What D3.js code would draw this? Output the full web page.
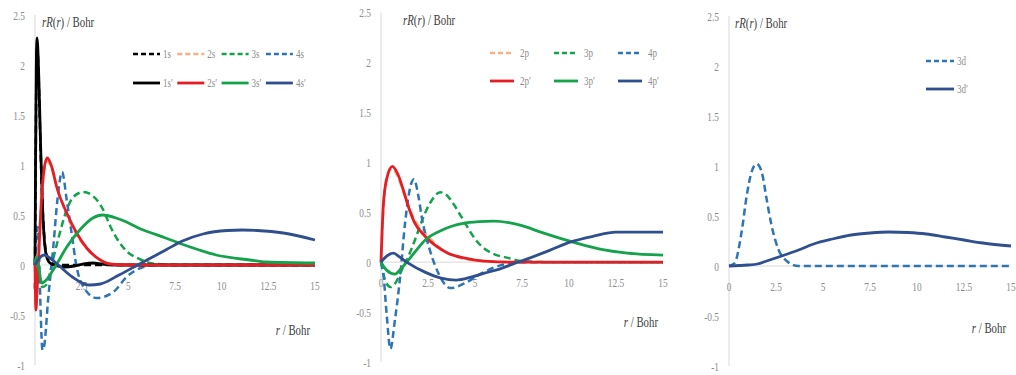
<!DOCTYPE html>
<html>
  <head>
    <meta charset="utf-8">
    <title>Radial functions rR(r)</title>
    <script src="https://cdn.jsdelivr.net/npm/d3@7"></script>
    <style>
      body { margin: 0; background: #fff; }
      svg { display: block; font-family: "Liberation Serif", "Times New Roman", serif; }
      .tick-label { fill: #8c8c8c; font-size: 13px; }
      .axis-title { fill: #404040; font-size: 15px; }
      .legend-label { fill: #8c8c8c; font-size: 12.5px; }
      .axis-line { stroke: #d9d9d9; stroke-width: 1; fill: none; }
      .plot { fill: none; stroke-linejoin: round; }
    </style>
  </head>
  <body>
    <svg id="chart" width="1016" height="375"></svg>
    <script>
      // tick labels
      var xTicks = [0, 2.5, 5, 7.5, 10, 12.5, 15];
      var yTicks = [-1, -0.5, 0, 0.5, 1, 1.5, 2, 2.5];

      // s orbitals: [r / Bohr, rR(r)]
      var s1 = [[0,0],[0.04,1.1],[0.08,2.0],[0.12,2.2],[0.2,1.85],[0.3,1.15],[0.4,0.6],[0.5,0.28],[0.6,0.12],[0.8,0.03],[1.2,0],[2,0],[4,0],[8,0],[15,0]];
      var s2 = [[0,0],[0.05,-0.42],[0.1,-0.28],[0.2,0.12],[0.3,0.5],[0.45,0.88],[0.65,1.04],[0.9,0.96],[1.2,0.76],[1.7,0.5],[2.2,0.31],[2.8,0.16],[3.5,0.05],[4.2,0.01],[6,0],[15,0]];
      var s3 = [[0,0],[0.15,-0.12],[0.4,-0.22],[0.6,-0.2],[0.8,-0.08],[1.0,0.08],[1.3,0.3],[1.7,0.55],[2.05,0.68],[2.6,0.73],[3.1,0.69],[3.66,0.55],[4.0,0.4],[4.4,0.26],[4.9,0.14],[5.6,0.06],[6.5,0.01],[8,0],[15,0]];
      var s4 = [[0,0],[0.08,0.3],[0.15,0.38],[0.22,0.1],[0.3,-0.45],[0.4,-0.85],[0.5,-0.8],[0.7,-0.35],[0.98,0.18],[1.2,0.65],[1.45,0.93],[1.7,0.65],[1.96,0.32],[2.23,-0.02],[2.6,-0.22],[3.3,-0.33],[4.2,-0.27],[4.9,-0.12],[5.8,-0.02],[6.5,0],[10,0],[15,0]];
      var s1p = [[0,0],[0.03,1.0],[0.07,2.0],[0.11,2.27],[0.2,1.9],[0.3,1.2],[0.4,0.6],[0.5,0.25],[0.6,0.1],[0.8,0.02],[1.2,-0.01],[1.6,-0.02],[2.1,-0.01],[2.6,0.01],[3.1,0.02],[3.6,0.01],[4.5,0],[8,0],[15,0]];
      var s2p = [[0,0],[0.05,-0.45],[0.1,-0.3],[0.2,0.1],[0.3,0.5],[0.45,0.9],[0.65,1.07],[0.9,0.98],[1.16,0.78],[1.7,0.52],[2.23,0.32],[2.77,0.17],[3.5,0.05],[4,0.01],[5,0],[10,0],[15,0]];
      var s3p = [[0,0],[0.05,0.08],[0.15,0.02],[0.37,-0.18],[0.6,-0.15],[0.97,-0.05],[1.2,0.02],[1.7,0.18],[2.4,0.35],[3.1,0.47],[3.6,0.5],[4.5,0.46],[5.8,0.35],[7.0,0.27],[7.7,0.22],[8.8,0.15],[9.7,0.1],[11.5,0.05],[12.4,0.03],[15,0.02]];
      var s4p = [[0,0],[0.2,0.06],[0.5,0.1],[0.8,0.07],[1.25,0],[2,-0.12],[2.9,-0.2],[3.5,-0.19],[4.5,-0.1],[5.5,0],[6.2,0.07],[7.0,0.15],[7.9,0.24],[9.0,0.31],[10.3,0.345],[11.1,0.35],[11.9,0.345],[13.3,0.32],[15,0.25]];

      // p orbitals
      var p2 = [[0,0],[0.15,0.6],[0.35,0.88],[0.6,0.94],[0.9,0.85],[1.2,0.7],[1.5,0.55],[1.8,0.42],[2.3,0.3],[2.8,0.2],[3.3,0.12],[3.8,0.07],[4.5,0.03],[5.5,0.01],[7,0],[15,0]];
      var p3 = [[0,0],[0.2,-0.17],[0.5,-0.25],[0.8,-0.2],[1.1,-0.08],[1.37,0.02],[1.8,0.22],[2.34,0.49],[2.7,0.62],[3.15,0.7],[3.5,0.67],[3.83,0.59],[4.38,0.42],[4.9,0.26],[5.4,0.15],[5.9,0.09],[6.8,0.04],[7.5,0.01],[9,0],[15,0]];
      var p4 = [[0,0],[0.12,-0.11],[0.3,-0.52],[0.5,-0.87],[0.74,-0.58],[1.0,-0.18],[1.28,0.39],[1.5,0.7],[1.75,0.83],[2.0,0.65],[2.16,0.46],[2.6,0.12],[3.05,-0.11],[3.7,-0.26],[4.47,-0.21],[5.36,-0.11],[6.4,-0.03],[7.5,0],[10,0],[15,0]];
      var p2p = [[0,0],[0.12,0.56],[0.3,0.83],[0.6,0.96],[0.9,0.88],[1.19,0.72],[1.45,0.56],[1.8,0.39],[2.34,0.26],[2.87,0.17],[3.56,0.09],[4.47,0.04],[5.5,0.01],[7,0],[15,0]];
      var p3p = [[0,0],[0.3,-0.08],[0.74,-0.12],[1.0,-0.08],[1.37,0],[1.8,0.1],[2.34,0.22],[3.23,0.32],[4.3,0.385],[5.2,0.405],[6.0,0.41],[6.8,0.395],[7.5,0.365],[8.5,0.3],[9.5,0.24],[10.4,0.19],[11.65,0.13],[13.1,0.09],[15,0.07]];
      var p4p = [[0,0],[0.3,0.06],[0.66,0.09],[1.0,0.05],[1.45,-0.01],[2.34,-0.1],[3.2,-0.16],[4.0,-0.18],[4.8,-0.15],[5.5,-0.11],[6.3,-0.07],[7.0,-0.02],[7.75,0.03],[9,0.12],[10.05,0.2],[11.3,0.26],[12.5,0.3],[13.4,0.3],[15,0.3]];

      // d orbitals
      var d3d = [[0,0],[0.3,0.03],[0.67,0.34],[0.94,0.7],[1.2,0.94],[1.47,1.02],[1.74,0.94],[2.0,0.67],[2.27,0.4],[2.62,0.17],[3.07,0.05],[3.7,0],[6,0],[10,0],[15,0]];
      var d3dp = [[0,0],[1,0.01],[1.5,0.02],[2,0.05],[2.8,0.1],[3.7,0.16],[4.5,0.22],[5.5,0.27],[6.5,0.31],[7.5,0.33],[8.5,0.34],[9.5,0.335],[10.5,0.32],[11.5,0.29],[12.5,0.26],[13.5,0.23],[15,0.2]];

      // colours
      var colours = { black: "#000000", peach: "#f4b183", red: "#e41e25", green: "#14a24c", blue: "#2e75b6", navy: "#2f4f8f" };

      // series per panel (row 0 = dashed, row 1 = solid in the legend)
      var panels = [
        {
          left: 35, right: 315, top: 15, bottom: 365,
          titleX: 42, titleY: 27, xTitleY: 335,
          legend: { x: 133, step: 44.3, len: 27, gap: 3, y: [54, 83] },
          series: [
            { name: "1s", data: s1, colour: colours.black, dashed: true },
            { name: "2s", data: s2, colour: colours.peach, dashed: true },
            { name: "3s", data: s3, colour: colours.green, dashed: true },
            { name: "4s", data: s4, colour: colours.blue, dashed: true },
            { name: "1s′", data: s1p, colour: colours.black, dashed: false },
            { name: "2s′", data: s2p, colour: colours.red, dashed: false },
            { name: "3s′", data: s3p, colour: colours.green, dashed: false },
            { name: "4s′", data: s4p, colour: colours.navy, dashed: false }
          ]
        },
        {
          left: 381, right: 663, top: 12.5, bottom: 362,
          titleX: 403, titleY: 25, xTitleY: 327,
          legend: { x: 490, step: 64, len: 24, gap: 6, y: [53, 81] },
          series: [
            { name: "2p", data: p2, colour: colours.peach, dashed: true },
            { name: "3p", data: p3, colour: colours.green, dashed: true },
            { name: "4p", data: p4, colour: colours.blue, dashed: true },
            { name: "2p′", data: p2p, colour: colours.red, dashed: false },
            { name: "3p′", data: p3p, colour: colours.green, dashed: false },
            { name: "4p′", data: p4p, colour: colours.navy, dashed: false }
          ]
        },
        {
          left: 729, right: 1011, top: 16, bottom: 366,
          titleX: 735, titleY: 28, xTitleY: 333,
          legend: { x: 926, step: 60, len: 28, gap: 3, y: [61, 89] },
          series: [
            { name: "3d", data: d3d, colour: colours.blue, dashed: true },
            { name: "3d′", data: d3dp, colour: colours.navy, dashed: false }
          ]
        }
      ];

      var svg = d3.select("#chart");
      var squeeze = 0.72;

      function addText(g, x, y, cls, anchor) {
        return g.append("text")
          .attr("class", cls)
          .attr("text-anchor", anchor)
          .attr("transform", "translate(" + x + "," + y + ") scale(" + squeeze + ",1)");
      }

      panels.forEach(function(p) {
        var g = svg.append("g");
        var x = d3.scaleLinear().domain([0, 15]).range([p.left, p.right]);
        var y = d3.scaleLinear().domain([-1, 2.5]).range([p.bottom, p.top]);

        // axes lines
        g.append("line").attr("class", "axis-line")
          .attr("x1", x(0)).attr("x2", x(0)).attr("y1", p.top).attr("y2", p.bottom);
        g.append("line").attr("class", "axis-line")
          .attr("x1", x(0)).attr("x2", x(15)).attr("y1", y(0)).attr("y2", y(0));

        // tick labels
        yTicks.forEach(function(t) {
          addText(g, x(0) - 10, y(t) + 4.5, "tick-label", "end").text(t);
        });
        xTicks.forEach(function(t) {
          addText(g, x(t), y(0) + 25, "tick-label", "middle").text(t);
        });

        // axis titles
        var title = addText(g, p.titleX, p.titleY, "axis-title", "start");
        title.append("tspan").attr("font-style", "italic").text("rR");
        title.append("tspan").text("(");
        title.append("tspan").attr("font-style", "italic").text("r");
        title.append("tspan").text(") / Bohr");
        var xTitle = addText(g, x(15) - 5, p.xTitleY, "axis-title", "end");
        xTitle.append("tspan").attr("font-style", "italic").text("r");
        xTitle.append("tspan").text(" / Bohr");

        // lines
        var line = d3.line()
          .x(function(d) { return x(d[0]); })
          .y(function(d) { return y(d[1]); })
          .curve(d3.curveMonotoneX);
        p.series.forEach(function(s) {
          g.append("path")
            .attr("class", "plot")
            .attr("d", line(s.data))
            .attr("stroke", s.colour)
            .attr("stroke-width", s.dashed ? 2.5 : 2.8)
            .attr("stroke-dasharray", s.dashed ? "7,4" : null);
        });

        // legend
        var dashed = p.series.filter(function(s) { return s.dashed; });
        var solid = p.series.filter(function(s) { return !s.dashed; });
        [dashed, solid].forEach(function(row, ri) {
          row.forEach(function(s, ci) {
            var lx = p.legend.x + ci * p.legend.step;
            var ly = p.legend.y[ri];
            g.append("line")
              .attr("x1", lx).attr("x2", lx + p.legend.len)
              .attr("y1", ly).attr("y2", ly)
              .attr("stroke", s.colour)
              .attr("stroke-width", s.dashed ? 2.5 : 2.8)
              .attr("stroke-dasharray", s.dashed ? "5,3" : null);
            addText(g, lx + p.legend.len + p.legend.gap, ly + 4, "legend-label", "start").text(s.name);
          });
        });
      });
    </script>
  </body>
</html>
